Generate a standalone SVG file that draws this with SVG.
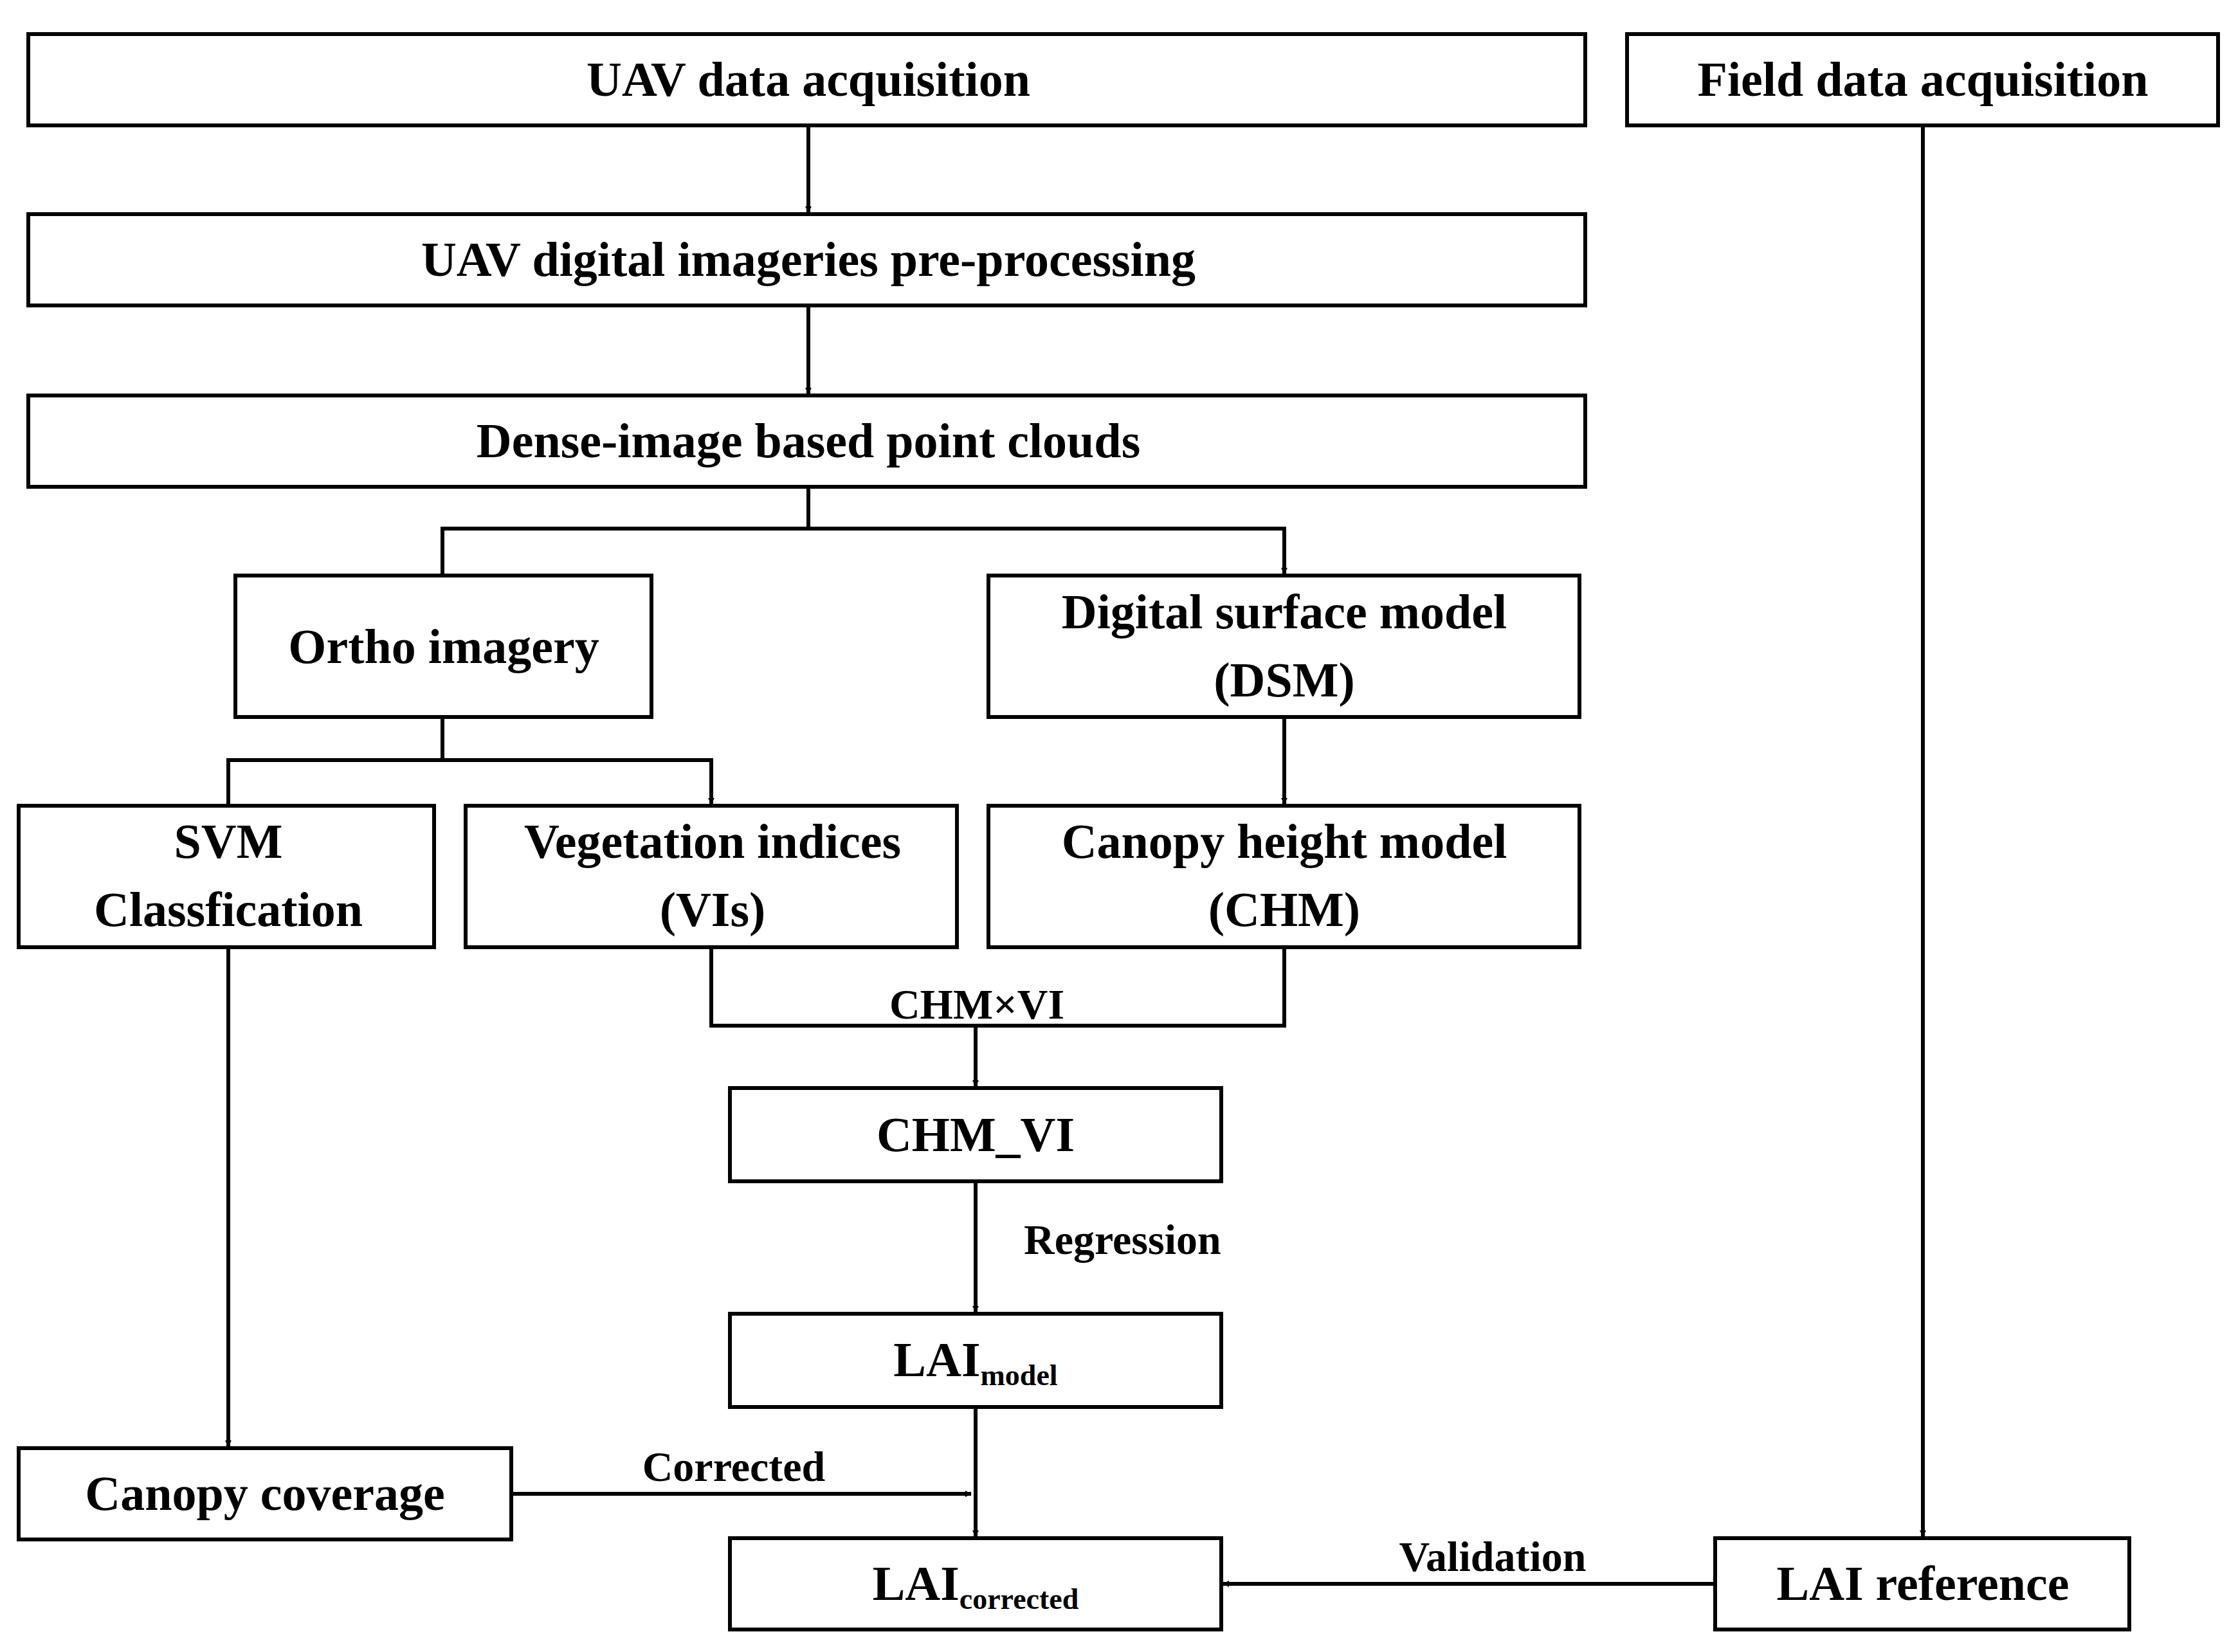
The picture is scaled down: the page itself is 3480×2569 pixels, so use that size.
<svg xmlns="http://www.w3.org/2000/svg" width="3480" height="2569" viewBox="0 0 3480 2569">
<style>
.b{fill:#fff;stroke:#000;stroke-width:6}
text{font-family:"Liberation Serif","Times New Roman",serif;font-weight:bold;font-size:76px;text-anchor:middle;fill:#000}
.l{font-size:66px}
.c line,.c polyline{stroke:#000;stroke-width:6;fill:none}
</style>
<defs><marker id="a" markerWidth="10" markerHeight="10" refX="9" refY="5" orient="auto" markerUnits="userSpaceOnUse" viewBox="0 0 10 10"><path d="M0,0 L10,5 L0,10 z"/></marker></defs>
<rect width="3480" height="2569" fill="#fff"/>
<g class="c">
<line x1="1257" y1="195" x2="1257" y2="330" marker-end="url(#a)"/>
<line x1="1257" y1="475" x2="1257" y2="612" marker-end="url(#a)"/>
<line x1="1257" y1="757" x2="1257" y2="822"/>
<polyline points="688,892 688,822 1997,822 1997,892" marker-start="url(#a)" marker-end="url(#a)"/>
<line x1="688" y1="1115" x2="688" y2="1182"/>
<polyline points="355,1250 355,1182 1106,1182 1106,1250" marker-start="url(#a)" marker-end="url(#a)"/>
<line x1="1997" y1="1115" x2="1997" y2="1250" marker-end="url(#a)"/>
<polyline points="1106,1473 1106,1595 1997,1595 1997,1473"/>
<line x1="1517" y1="1595" x2="1517" y2="1689" marker-end="url(#a)"/>
<line x1="1517" y1="1837" x2="1517" y2="2040" marker-end="url(#a)"/>
<line x1="1517" y1="2188" x2="1517" y2="2389" marker-end="url(#a)"/>
<line x1="355" y1="1473" x2="355" y2="2249" marker-end="url(#a)"/>
<line x1="795" y1="2323" x2="1510" y2="2323" marker-end="url(#a)"/>
<line x1="2667" y1="2463" x2="1902" y2="2463" marker-end="url(#a)"/>
<line x1="2990" y1="195" x2="2990" y2="2389" marker-end="url(#a)"/>
</g>
<g id="n1"><rect class="b" x="44" y="53" width="2421" height="142"/><text x="1257" y="149">UAV data acquisition</text></g>
<g id="n2"><rect class="b" x="2530" y="53" width="919" height="142"/><text x="2990" y="149">Field data acquisition</text></g>
<g id="n3"><rect class="b" x="44" y="333" width="2421" height="142"/><text x="1257" y="429">UAV digital imageries pre-processing</text></g>
<g id="n4"><rect class="b" x="44" y="615" width="2421" height="142"/><text x="1257" y="711">Dense-image based point clouds</text></g>
<g id="n5"><rect class="b" x="366" y="895" width="647" height="220"/><text x="690" y="1031">Ortho imagery</text></g>
<g id="n6"><rect class="b" x="1537" y="895" width="919" height="220"/><text x="1997" y="977">Digital surface model</text><text x="1997" y="1083">(DSM)</text></g>
<g id="n7"><rect class="b" x="29" y="1253" width="646" height="220"/><text x="355" y="1334">SVM</text><text x="355" y="1440">Classfication</text></g>
<g id="n8"><rect class="b" x="724" y="1253" width="764" height="220"/><text x="1108" y="1334">Vegetation indices</text><text x="1108" y="1440">(VIs)</text></g>
<g id="n9"><rect class="b" x="1537" y="1253" width="919" height="220"/><text x="1997" y="1334">Canopy height model</text><text x="1997" y="1440">(CHM)</text></g>
<g id="n10"><rect class="b" x="1135" y="1692" width="764" height="145"/><text x="1517" y="1790">CHM_VI</text></g>
<g id="n11"><rect class="b" x="1135" y="2043" width="764" height="145"/><text x="1517" y="2140">LAI<tspan font-size="46" dy="14">model</tspan></text></g>
<g id="n12"><rect class="b" x="29" y="2252" width="766" height="142"/><text x="412" y="2348">Canopy coverage</text></g>
<g id="n13"><rect class="b" x="1135" y="2392" width="764" height="142"/><text x="1517" y="2488">LAI<tspan font-size="46" dy="14">corrected</tspan></text></g>
<g id="n14"><rect class="b" x="2667" y="2392" width="644" height="142"/><text x="2990" y="2488">LAI reference</text></g>
<g id="labels">
<text class="l" x="1519" y="1584">CHM×VI</text>
<text class="l" x="1592" y="1950" text-anchor="start" style="text-anchor:start">Regression</text>
<text class="l" x="1141" y="2303">Corrected</text>
<text class="l" x="2321" y="2443">Validation</text>
</g>
</svg>
